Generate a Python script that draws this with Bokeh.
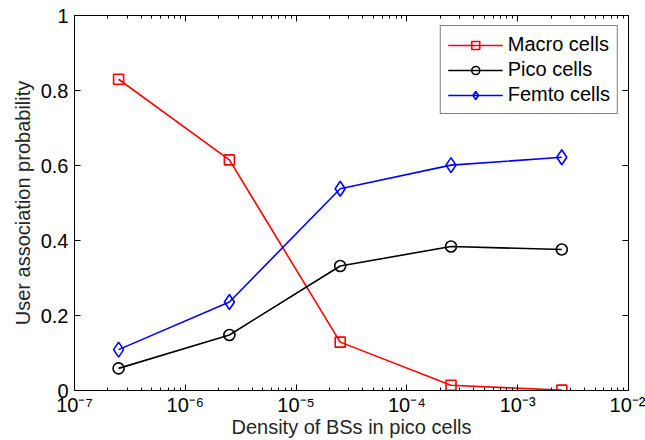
from bokeh.plotting import figure
from bokeh.models import (Range1d, LinearAxis, LogAxis, FixedTicker, Legend, LegendItem,
                          LogTicker, CustomJSTickFormatter)
from bokeh.embed import file_html
from bokeh.resources import INLINE

density = [2.5e-7, 2.5e-6, 2.5e-5, 2.5e-4, 2.5e-3]
macro = [0.830, 0.615, 0.129, 0.014, 0.001]
pico = [0.059, 0.148, 0.332, 0.384, 0.376]
femto = [0.109, 0.236, 0.538, 0.601, 0.622]

x_ticks = [1e-7, 1e-6, 1e-5, 1e-4, 1e-3, 1e-2]
x_labels = ["10⁻⁷", "10⁻⁶", "10⁻⁵", "10⁻⁴", "10⁻³", "10⁻²"]
y_ticks = [0, 0.2, 0.4, 0.6, 0.8, 1.0]
y_labels = ["0", "0.2", "0.4", "0.6", "0.8", "1"]

FONT = "Liberation Sans"

p = figure(width=645, height=440, x_axis_type="log",
           x_range=Range1d(1e-7, 1e-2), y_range=Range1d(0, 1),
           output_backend="svg", toolbar_location=None,
           min_border_left=74, min_border_right=17, min_border_top=15, min_border_bottom=50)
p.grid.visible = False
p.outline_line_color = "black"
p.outline_line_width = 1
p.background_fill_color = "white"
p.border_fill_color = "white"

def style_axis(ax, labels=True):
    ax.axis_line_color = "black"
    ax.major_tick_line_color = "black"
    ax.minor_tick_line_color = "black"
    ax.major_tick_in = 6
    ax.major_tick_out = 0
    ax.minor_tick_in = 3
    ax.minor_tick_out = 0
    ax.major_label_text_font = FONT
    ax.major_label_text_color = "black"
    ax.axis_label_text_font = FONT
    ax.axis_label_text_font_style = "normal"
    ax.axis_label_text_color = "#262626"
    if not labels:
        ax.formatter = CustomJSTickFormatter(code="return '';")
        ax.major_label_standoff = 0
        ax.axis_label_standoff = 0

xa = p.xaxis[0]
style_axis(xa)
xa.ticker = LogTicker(desired_num_ticks=6, num_minor_ticks=10)
xa.formatter = CustomJSTickFormatter(
    args=dict(tv=x_ticks, tl=x_labels),
    code="""
    for (let i = 0; i < tv.length; i++) {
        if (Math.abs(Math.log10(tick) - Math.log10(tv[i])) < 1e-6) return tl[i];
    }
    return '';
    """)
xa.major_label_text_font_size = "20px"
xa.major_label_standoff = 3
xa.axis_label = "Density of BSs in pico cells"
xa.axis_label_text_font_size = "20px"
xa.axis_label_standoff = -3

ya = p.yaxis[0]
style_axis(ya)
ya.ticker = FixedTicker(ticks=y_ticks, minor_ticks=[])
ya.formatter = CustomJSTickFormatter(
    args=dict(tv=y_ticks, tl=y_labels),
    code="""
    for (let i = 0; i < tv.length; i++) {
        if (Math.abs(tick - tv[i]) < 1e-9) return tl[i];
    }
    return '';
    """)
ya.major_label_text_font_size = "20px"
ya.major_label_standoff = 6
ya.axis_label = "User association probability"
ya.axis_label_text_font_size = "20px"
ya.axis_label_standoff = 4

top = LogAxis(ticker=LogTicker(desired_num_ticks=6, num_minor_ticks=10))
style_axis(top, labels=False)
p.add_layout(top, "above")
right = LinearAxis(ticker=FixedTicker(ticks=y_ticks, minor_ticks=[]))
style_axis(right, labels=False)
p.add_layout(right, "right")

lw = 1.6
ml = p.line(density, macro, line_color="#ff0000", line_width=lw)
ms = p.scatter(density, macro, marker="square", size=10, fill_color=None,
               line_color="#ff0000", line_width=lw)
pl = p.line(density, pico, line_color="black", line_width=lw)
ps = p.scatter(density, pico, marker="circle", size=11, fill_color=None,
               line_color="black", line_width=lw)
fl = p.line(density, femto, line_color="#0000ff", line_width=lw)
fs = p.scatter(density, femto, marker="diamond", size=15, fill_color=None,
               line_color="#0000ff", line_width=lw)

legend = Legend(items=[
    LegendItem(label="Macro cells", renderers=[ml, ms]),
    LegendItem(label="Pico cells", renderers=[pl, ps]),
    LegendItem(label="Femto cells", renderers=[fl, fs]),
], location="top_right")
legend.label_text_font = FONT
legend.label_text_font_size = "20px"
legend.label_text_color = "black"
legend.border_line_color = "black"
legend.border_line_width = 1
legend.background_fill_color = "white"
legend.background_fill_alpha = 1
legend.glyph_width = 55
legend.glyph_height = 20
legend.label_height = 20
legend.spacing = 2
legend.padding = 7
legend.margin = 10
legend.label_standoff = 5
p.add_layout(legend)

open("out.html", "w").write(file_html(p, INLINE))
